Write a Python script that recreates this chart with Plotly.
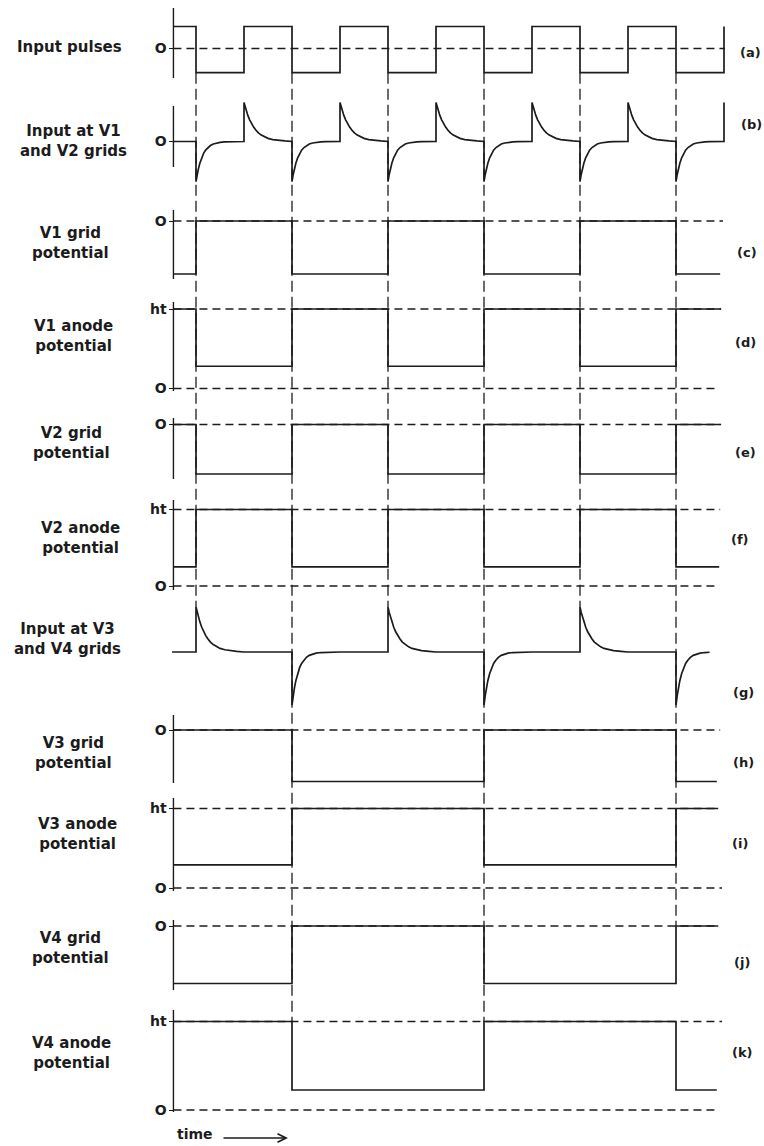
import plotly.graph_objects as go

# ---------------- data (time measured in half-periods of the input pulse train) ----------------
row_keys = ["a", "b", "c", "d", "e", "f", "g", "h", "i", "j", "k"]
row_labels = [
    "Input pulses",
    "Input at V1<br>and V2 grids",
    "V1 grid<br>potential",
    "V1 anode<br>potential",
    "V2 grid<br>potential",
    "V2 anode<br>potential",
    "Input at V3<br>and V4 grids",
    "V3 grid<br>potential",
    "V3 anode<br>potential",
    "V4 grid<br>potential",
    "V4 anode<br>potential",
]
row_tags = ["(a)", "(b)", "(c)", "(d)", "(e)", "(f)", "(g)", "(h)", "(i)", "(j)", "(k)"]

input_toggles = [1, 2, 3, 4, 5, 6, 7, 8, 9, 10, 11, 12]
stage1_toggles = [1, 3, 5, 7, 9, 11]
stage2_toggles = [3, 7, 11]

# square waves: start level, level after first toggle, end time
sq_rows = ["a", "c", "d", "e", "f", "h", "i", "j", "k"]
sq_toggles = [input_toggles, stage1_toggles, stage1_toggles, stage1_toggles, stage1_toggles,
              stage2_toggles, stage2_toggles, stage2_toggles, stage2_toggles]
sq_start = [1.0, -1.0, 1.0, 0.0, 0.25, 0.0, 0.29, -1.0, 1.0]
sq_other = [-1.1, 0.0, 0.28, -1.0, 1.0, -1.0, 1.0, 0.0, 0.226]
sq_end = [12.0, 11.92, 11.94, 11.94, 11.9, 11.85, 11.88, 11.88, 11.85]

# differentiated (spike) waveforms
b_pos_times = [2, 4, 6, 8, 10, 12]
b_neg_times = [1, 3, 5, 7, 9, 11]
b_pos_amp, b_neg_amp, b_end = 1.0, 1.03, 12.0
g_pos_times = [1, 5, 9]
g_neg_times = [3, 7, 11]
g_pos_amp, g_neg_amp, g_end = 1.0, 1.18, 11.77

# decay profile (fraction of spike height vs. time after edge)
decay_dt = [0, 0.025, 0.05, 0.08, 0.12, 0.16, 0.2, 0.25, 0.3, 0.36, 0.43, 0.5, 0.6, 0.7, 0.85, 1.0]
pos_decay = [1, 0.88, 0.78, 0.67, 0.55, 0.45, 0.37, 0.29, 0.22, 0.165, 0.115, 0.08, 0.05, 0.03, 0.014, 0]
neg_decay = [1, 0.82, 0.68, 0.54, 0.40, 0.29, 0.215, 0.15, 0.10, 0.063, 0.037, 0.021, 0.01, 0.005, 0, 0]

# dashed reference levels: row, level, end time
ref_rows = ["a", "c", "d", "d", "e", "f", "f", "h", "i", "i", "j", "k", "k"]
ref_levels = [0.0, 0.0, 1.0, 0.0, 0.0, 1.0, 0.0, 0.0, 1.0, 0.0, 0.0, 1.0, 0.0]
ref_ends = [12.02, 11.98, 11.94, 11.81, 11.92, 11.92, 11.81, 11.92, 11.88, 11.96, 11.88, 11.96, 11.85]

# level tick labels per row
tick_vals = {"a": [0], "b": [0], "c": [0], "d": [1, 0], "e": [0], "f": [1, 0],
             "h": [0], "i": [1, 0], "j": [0], "k": [1, 0]}
tick_text = {"a": ["O"], "b": ["O"], "c": ["O"], "d": ["ht", "O"], "e": ["O"], "f": ["ht", "O"],
             "h": ["O"], "i": ["ht", "O"], "j": ["O"], "k": ["ht", "O"]}

# vertical timing markers: time, row and level where they stop
marker_times = [1, 3, 5, 7, 9, 11]
marker_stop_row = ["g", "k", "g", "k", "g", "j"]
marker_stop_level = [1.0, 1.0, 1.0, 1.0, 1.0, 0.0]
marker_start_row, marker_start_level = "a", -1.1

# ---------------- layout geometry (pixels) ----------------
W, H = 764, 1146
X0_PX, X_UNIT = 148.0, 48.0
T_AXIS = 0.53
T_LO, T_HI = T_AXIS - 0.15, 12.15
INK = "#1c1c1c"
FONT = "DejaVu Sans"

# zero_px, unit_px, band_top, band_bot, axis_top, axis_bot, label_x, label_y, tag_x, tag_y
geom = {
    "a": (48.5, 22.0, 0, 92, 8, 78, 69, 47, 750, 52),
    "b": (141.5, 39.0, 92, 200, 106, 167, 73, 141, 751, 125),
    "c": (221.0, 53.0, 200, 292, 210, 279, 70, 243, 747, 252),
    "d": (388.5, 79.5, 292, 402, 302, 391, 73, 336, 745, 342),
    "e": (424.5, 49.5, 402, 492, 418, 479, 71, 443, 745, 452),
    "f": (586.0, 76.5, 492, 597, 500, 590, 80, 537.5, 740, 540),
    "g": (652.0, 45.0, 597, 712, None, None, 67, 638.5, 743, 692),
    "h": (730.0, 51.5, 712, 792, 715, 783, 73, 752.5, 743, 762),
    "i": (888.0, 79.5, 792, 905, 798, 891, 77, 833.5, 740, 843),
    "j": (926.0, 57.5, 905, 1000, 920, 990, 70, 948, 742, 962),
    "k": (1110.0, 88.5, 1000, 1125, 1010, 1112, 71, 1053, 742, 1052),
}


def xpaper(t):
    return (X0_PX + X_UNIT * t) / W


def ypaper(row, level):
    zero, unit = geom[row][0], geom[row][1]
    return 1 - (zero - level * unit) / H


def square(toggles, start, other, t0, t1):
    xs, ys, lvl = [t0], [start], start
    for t in toggles:
        if t > t1:
            break
        nxt = other if lvl == start else start
        xs += [t, t]
        ys += [lvl, nxt]
        lvl = nxt
    xs.append(t1)
    ys.append(lvl)
    return xs, ys


def spikes(pos_t, neg_t, pos_a, neg_a, t0, t1):
    events = sorted([(t, pos_a, pos_decay) for t in pos_t] + [(t, -neg_a, neg_decay) for t in neg_t])
    xs, ys = [t0], [0.0]
    for t, amp, prof in events:
        if t > t1:
            break
        xs += [t, t]
        ys += [0.0, amp]
        for dt, fr in zip(decay_dt[1:], prof[1:]):
            if t + dt > t1:
                break
            xs.append(t + dt)
            ys.append(amp * fr)
    return xs, ys


def yname(row):
    n = row_keys.index(row) + 1
    return "y" if n == 1 else f"y{n}"


fig = go.Figure()
line_solid = dict(color=INK, width=1.7)
line_dash = dict(color=INK, width=1.3, dash="8px,5px")

# dashed reference levels
for r, lv, te in zip(ref_rows, ref_levels, ref_ends):
    fig.add_trace(go.Scatter(x=[T_AXIS, te], y=[lv, lv], mode="lines", line=line_dash,
                             yaxis=yname(r), hoverinfo="skip", showlegend=False))

# left level axes (vertical lines)
for r in row_keys:
    zero, unit, bt, bb, at, ab = geom[r][:6]
    if at is None:
        continue
    fig.add_trace(go.Scatter(x=[T_AXIS, T_AXIS], y=[(zero - ab) / unit, (zero - at) / unit],
                             mode="lines", line=dict(color=INK, width=1.4),
                             yaxis=yname(r), hoverinfo="skip", showlegend=False))

# square waveforms
for r, tg, s, o, te in zip(sq_rows, sq_toggles, sq_start, sq_other, sq_end):
    xs, ys = square(tg, s, o, T_AXIS, te)
    fig.add_trace(go.Scatter(x=xs, y=ys, mode="lines", line=line_solid,
                             yaxis=yname(r), hoverinfo="skip", showlegend=False))

# spike waveforms
xs, ys = spikes(b_pos_times, b_neg_times, b_pos_amp, b_neg_amp, T_AXIS, b_end)
fig.add_trace(go.Scatter(x=xs, y=ys, mode="lines", line=line_solid, yaxis=yname("b"),
                         hoverinfo="skip", showlegend=False))
xs, ys = spikes(g_pos_times, g_neg_times, g_pos_amp, g_neg_amp, T_AXIS - 0.03, g_end)
fig.add_trace(go.Scatter(x=xs, y=ys, mode="lines", line=line_solid, yaxis=yname("g"),
                         hoverinfo="skip", showlegend=False))

# axes
axes = {}
for i, r in enumerate(row_keys):
    zero, unit, bt, bb = geom[r][:4]
    key = "yaxis" if i == 0 else f"yaxis{i + 1}"
    tv = tick_vals.get(r, [])
    axes[key] = dict(
        domain=[1 - bb / H, 1 - bt / H],
        range=[(zero - bb) / unit, (zero - bt) / unit],
        anchor="free", position=xpaper(T_AXIS),
        showline=False, showgrid=False, zeroline=False,
        tickmode="array", tickvals=tv, ticktext=tick_text.get(r, []),
        ticks="outside" if tv else "", ticklen=4, tickwidth=1.3, tickcolor=INK,
        showticklabels=bool(tv),
        tickfont=dict(family=FONT, size=14, color=INK, weight="bold"),
        fixedrange=True,
    )

shapes = []
for t, sr, sl in zip(marker_times, marker_stop_row, marker_stop_level):
    shapes.append(dict(type="line", xref="x", yref="paper", x0=t, x1=t,
                       y0=ypaper(marker_start_row, marker_start_level), y1=ypaper(sr, sl),
                       line=dict(color=INK, width=1.3, dash="11px,5px"), layer="below"))

annotations = []
for r, lab, tag in zip(row_keys, row_labels, row_tags):
    lx, ly, tx, ty = geom[r][6:]
    annotations.append(dict(text=lab, xref="paper", yref="paper", x=lx / W, y=1 - ly / H,
                            xanchor="center", yanchor="middle", align="center", showarrow=False,
                            font=dict(family=FONT, size=15, color=INK, weight="bold")))
    annotations.append(dict(text=tag, xref="paper", yref="paper", x=tx / W, y=1 - ty / H,
                            xanchor="center", yanchor="middle", showarrow=False,
                            font=dict(family=FONT, size=13, color=INK, weight="bold")))

annotations.append(dict(text="time", xref="paper", yref="paper", x=195 / W, y=1 - 1134 / H,
                        xanchor="center", yanchor="middle", showarrow=False,
                        font=dict(family=FONT, size=14, color=INK, weight="bold")))
annotations.append(dict(text="", xref="paper", yref="paper", x=288 / W, y=1 - 1138 / H,
                        ax=-66, ay=0, axref="pixel", ayref="pixel", showarrow=True,
                        arrowhead=5, arrowsize=1.3, arrowwidth=1.3, arrowcolor=INK))

fig.update_layout(
    width=W, height=H, autosize=False,
    margin=dict(l=0, r=0, t=0, b=0),
    paper_bgcolor="white", plot_bgcolor="rgba(0,0,0,0)",
    xaxis=dict(domain=[xpaper(T_LO), xpaper(T_HI)], range=[T_LO, T_HI], visible=False,
               anchor="y11", fixedrange=True),
    shapes=shapes, annotations=annotations, showlegend=False,
    **axes,
)

fig.write_html("out.html", config={"displayModeBar": False},
               post_script="document.body.style.margin='0';document.body.style.overflow='hidden';")
